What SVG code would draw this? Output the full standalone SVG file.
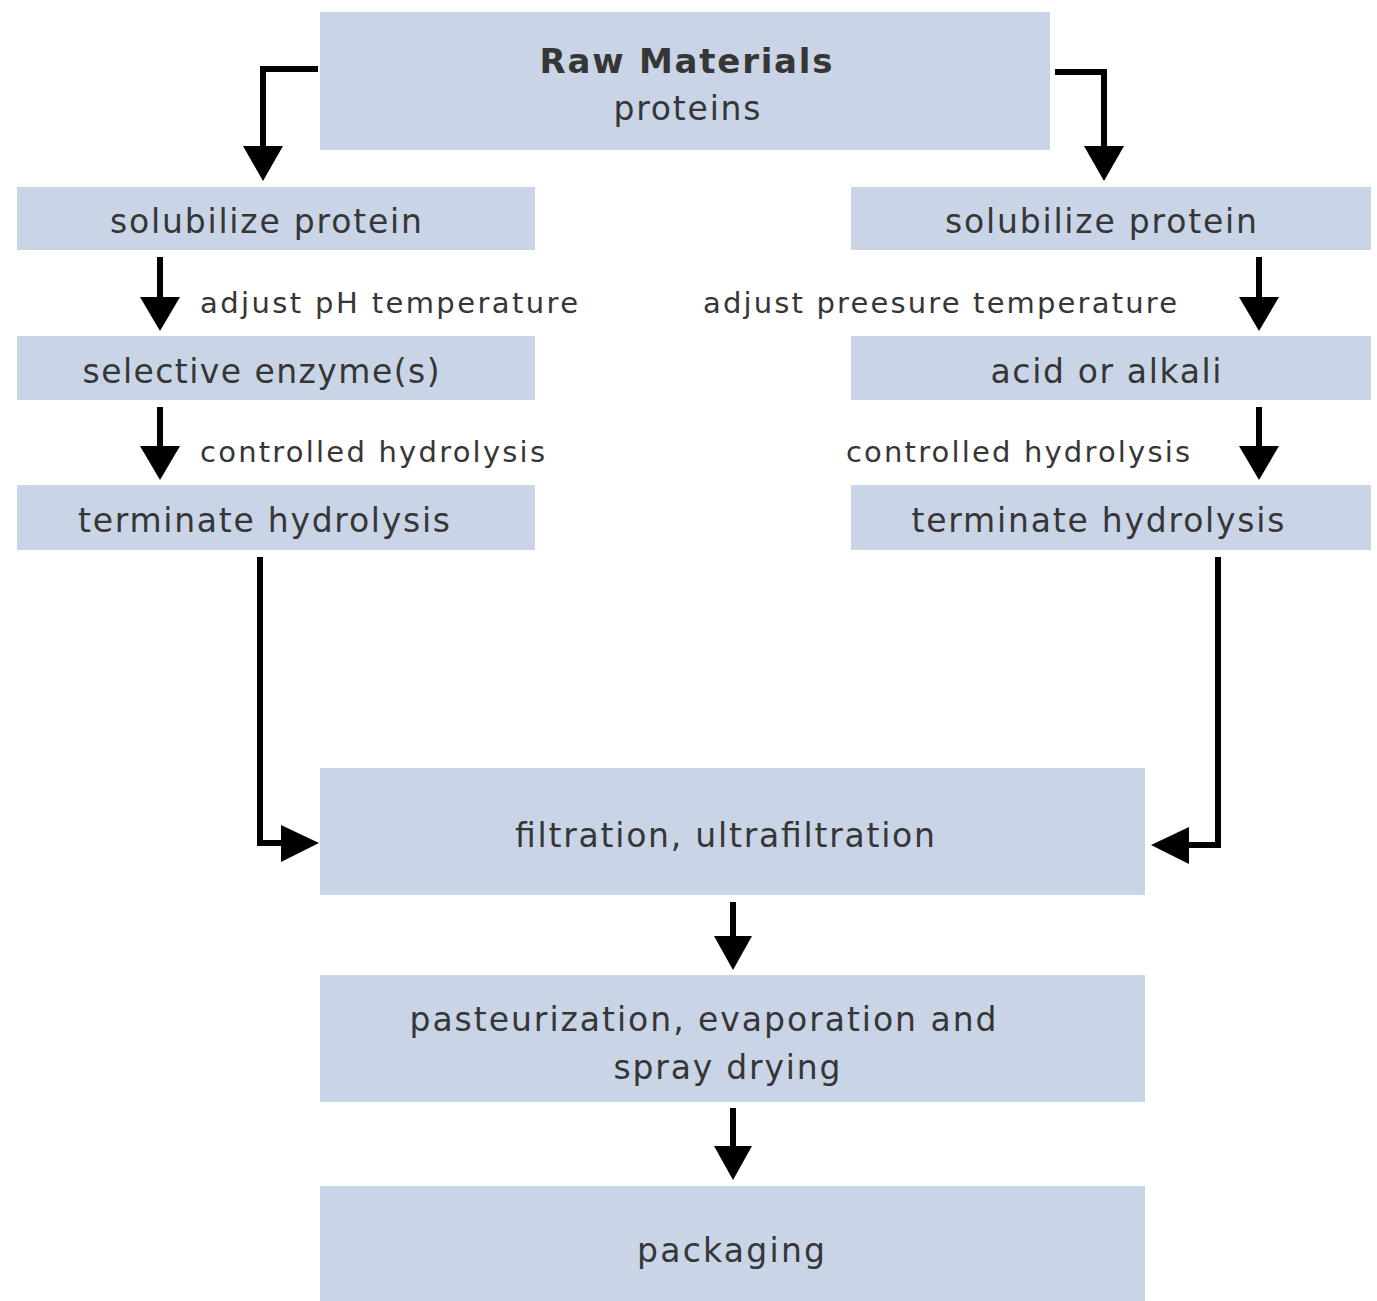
<svg xmlns="http://www.w3.org/2000/svg" width="1377" height="1301" viewBox="0 0 1377 1301">
<defs>
<style>
.box{fill:#c9d5e6;}
.t{font-family:"DejaVu Sans","Open Sans",sans-serif;font-size:33px;fill:#363636;text-anchor:middle;}
.b{font-weight:bold;font-size:34px;}
.l{font-family:"DejaVu Sans","Open Sans",sans-serif;font-size:29px;fill:#363636;}
.c{fill:none;stroke:#000;stroke-width:6;}
.h{fill:#000;}
</style>
</defs>
<rect width="1377" height="1301" fill="#fff"/>
<g id="raw"><rect class="box" x="320" y="12" width="730" height="138"/><text class="t b" x="686" y="73" textLength="293" lengthAdjust="spacing">Raw Materials</text><text class="t" x="687" y="120" textLength="147" lengthAdjust="spacing">proteins</text></g>
<g id="sol-l"><rect class="box" x="17" y="187" width="518" height="63"/><text class="t" x="266" y="233" textLength="312" lengthAdjust="spacing">solubilize protein</text></g>
<g id="enz"><rect class="box" x="17" y="336" width="518" height="64"/><text class="t" x="261" y="383" textLength="357" lengthAdjust="spacing">selective enzyme(s)</text></g>
<g id="term-l"><rect class="box" x="17" y="485" width="518" height="65"/><text class="t" x="264" y="532" textLength="372" lengthAdjust="spacing">terminate hydrolysis</text></g>
<g id="sol-r"><rect class="box" x="851" y="187" width="520" height="63"/><text class="t" x="1101" y="233" textLength="312" lengthAdjust="spacing">solubilize protein</text></g>
<g id="acid"><rect class="box" x="851" y="336" width="520" height="64"/><text class="t" x="1106" y="383" textLength="231" lengthAdjust="spacing">acid or alkali</text></g>
<g id="term-r"><rect class="box" x="851" y="485" width="520" height="65"/><text class="t" x="1098" y="532" textLength="373" lengthAdjust="spacing">terminate hydrolysis</text></g>
<g id="filt"><rect class="box" x="320" y="768" width="825" height="127"/><text class="t" x="725" y="847" textLength="420" lengthAdjust="spacing">filtration, ultrafiltration</text></g>
<g id="past"><rect class="box" x="320" y="975" width="825" height="127"/><text class="t" x="703" y="1031" textLength="587" lengthAdjust="spacing">pasteurization, evaporation and</text><text class="t" x="727" y="1079" textLength="227" lengthAdjust="spacing">spray drying</text></g>
<g id="pack"><rect class="box" x="320" y="1186" width="825" height="115"/><text class="t" x="731" y="1262" textLength="188" lengthAdjust="spacing">packaging</text></g>
<g id="labels">
<text class="l" x="200" y="313" textLength="378" lengthAdjust="spacing">adjust pH temperature</text>
<text class="l" x="200" y="462" textLength="345" lengthAdjust="spacing">controlled hydrolysis</text>
<text class="l" x="703" y="313" textLength="474" lengthAdjust="spacing">adjust preesure temperature</text>
<text class="l" x="846" y="462" textLength="344" lengthAdjust="spacing">controlled hydrolysis</text>
</g>
<g id="connectors">
<polyline class="c" points="318,69 263,69 263,148"/><polygon class="h" points="243,146 283,146 263,181"/>
<polyline class="c" points="1055,72 1104,72 1104,148"/><polygon class="h" points="1084,146 1124,146 1104,181"/>
<line class="c" x1="160" y1="257" x2="160" y2="300"/><polygon class="h" points="140,297 180,297 160,331"/>
<line class="c" x1="160" y1="407" x2="160" y2="449"/><polygon class="h" points="140,446 180,446 160,480"/>
<line class="c" x1="1259" y1="257" x2="1259" y2="300"/><polygon class="h" points="1239,297 1279,297 1259,331"/>
<line class="c" x1="1259" y1="407" x2="1259" y2="449"/><polygon class="h" points="1239,446 1279,446 1259,480"/>
<polyline class="c" points="260,557 260,843 285,843"/><polygon class="h" points="281,825 281,862 319,843"/>
<polyline class="c" points="1218,557 1218,845 1185,845"/><polygon class="h" points="1189,827 1189,864 1151,845"/>
<line class="c" x1="733" y1="902" x2="733" y2="940"/><polygon class="h" points="714,936 752,936 733,970"/>
<line class="c" x1="733" y1="1108" x2="733" y2="1150"/><polygon class="h" points="714,1146 752,1146 733,1180"/>
</g>
</svg>
